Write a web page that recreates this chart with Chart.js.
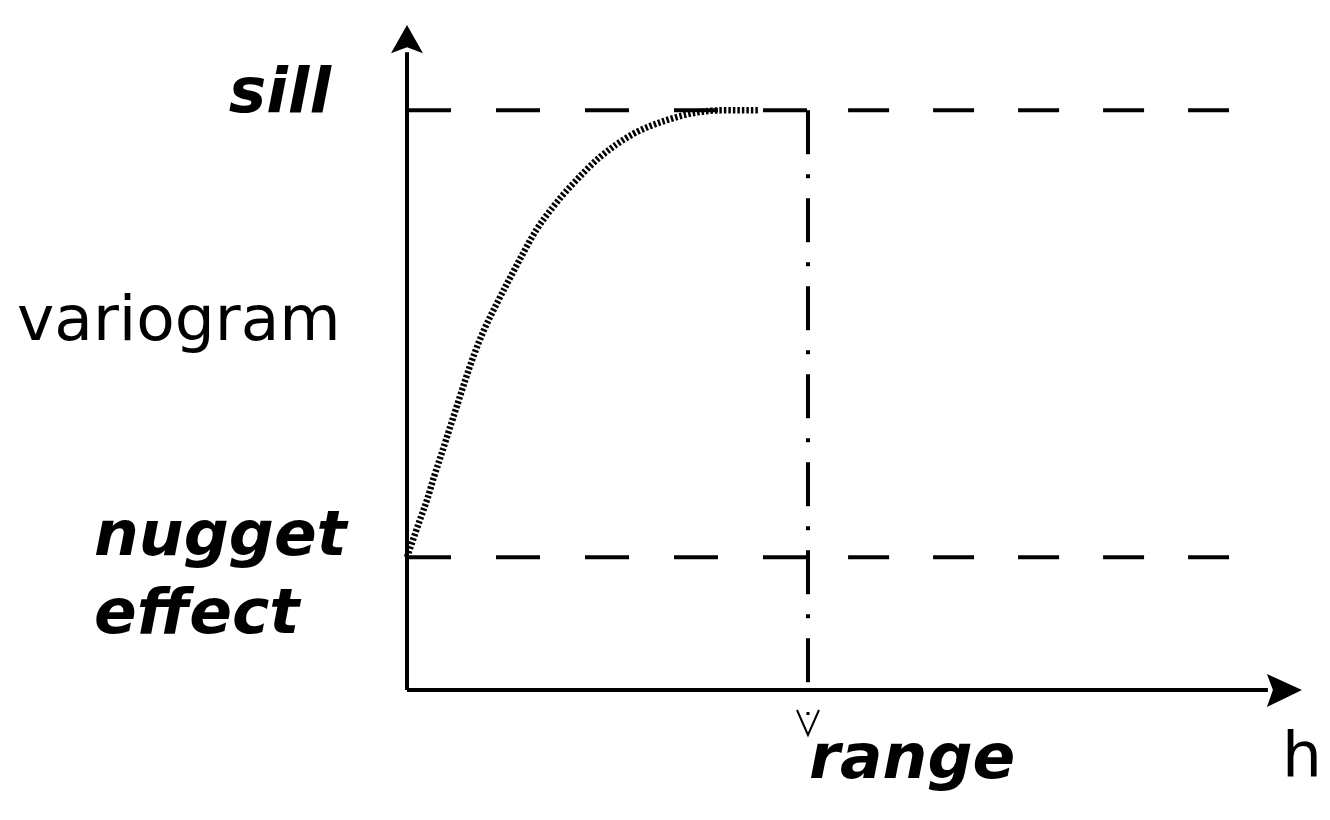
<!DOCTYPE html>
<html>
<head>
<meta charset="utf-8">
<script src="https://cdn.jsdelivr.net/npm/chart.js@4/dist/chart.umd.min.js"></script>
<style>
  html, body { margin: 0; padding: 0; background: #ffffff; }
  #wrap { width: 1330px; height: 820px; }
</style>
</head>
<body>
<div id="wrap"><canvas id="c" width="1330" height="820"></canvas></div>
<script>
// ---- data ----
const lagH   = [0, 0.15, 0.32, 0.50, 0.67, 0.85, 1.05, 1.25, 1.45, 1.67, 1.92, 2.22, 2.54, 2.87, 3.22, 3.64, 4.11, 4.81, 5.64, 6.48, 7.30, 8.05, 8.75];
const gammaH = [2.29, 2.59, 2.93, 3.28, 3.67, 4.05, 4.48, 4.91, 5.34, 5.78, 6.21, 6.64, 7.07, 7.50, 7.93, 8.33, 8.71, 9.19, 9.59, 9.83, 9.97, 10.0, 10.0];
const SILL = 10;
const NUGGET = 2.29;
const RANGE = 10;
const X_MAX = 22.32;
const Y_MAX = 11.47;
const X_AXIS_END = 21.47;   // where the x arrow head starts
const Y_AXIS_END = 11.0;    // where the y arrow head starts
const DASH_RIGHT_START = 11.0;
const DASH_RIGHT_END = 20.5;
const yLabels = ["sill", "variogram", "nugget", "effect"];
const xLabels = ["range", "h"];

const curve = lagH.map((x, i) => ({ x: x, y: gammaH[i] }));

const base = { showLine: true, pointRadius: 0, pointHoverRadius: 0, fill: false, clip: false, borderColor: '#000' };

const datasets = [
  Object.assign({}, base, { label: 'x axis', data: [{x: 0, y: 0}, {x: X_AXIS_END, y: 0}], borderWidth: 4 }),
  Object.assign({}, base, { label: 'y axis', data: [{x: 0, y: 0}, {x: 0, y: Y_AXIS_END}], borderWidth: 4 }),
  Object.assign({}, base, { label: 'sill left', data: [{x: 0, y: SILL}, {x: RANGE, y: SILL}], borderWidth: 4, borderDash: [44, 45] }),
  Object.assign({}, base, { label: 'sill right', data: [{x: DASH_RIGHT_START, y: SILL}, {x: DASH_RIGHT_END, y: SILL}], borderWidth: 4, borderDash: [41, 44] }),
  Object.assign({}, base, { label: 'nugget left', data: [{x: 0, y: NUGGET}, {x: RANGE, y: NUGGET}], borderWidth: 4, borderDash: [44, 45] }),
  Object.assign({}, base, { label: 'nugget right', data: [{x: DASH_RIGHT_START, y: NUGGET}, {x: DASH_RIGHT_END, y: NUGGET}], borderWidth: 4, borderDash: [41, 44] }),
  Object.assign({}, base, { label: 'range', data: [{x: RANGE, y: SILL}, {x: RANGE, y: 0}], borderWidth: 4, borderDash: [44, 20, 4, 20], borderCapStyle: 'butt' }),
  Object.assign({}, base, { label: 'variogram', data: curve, borderWidth: 6.5, borderDash: [2.5, 2], cubicInterpolationMode: 'monotone' })
];

const decor = {
  id: 'decor',
  afterDatasetsDraw(chart) {
    const ctx = chart.ctx;
    const xs = chart.scales.x, ys = chart.scales.y;
    const x0 = xs.getPixelForValue(0), y0 = ys.getPixelForValue(0);
    ctx.save();
    ctx.fillStyle = '#000';
    ctx.strokeStyle = '#000';
    // y arrow head
    const yt = ys.getPixelForValue(Y_MAX);
    const yb = ys.getPixelForValue(Y_AXIS_END);
    ctx.beginPath();
    ctx.moveTo(x0, yt);
    ctx.lineTo(x0 + 16, yb + 1);
    ctx.lineTo(x0, yb - 5);
    ctx.lineTo(x0 - 16, yb + 1);
    ctx.closePath();
    ctx.fill();
    // x arrow head
    const xt = xs.getPixelForValue(X_MAX);
    const xb = xs.getPixelForValue(X_AXIS_END);
    ctx.beginPath();
    ctx.moveTo(xt, y0);
    ctx.lineTo(xb - 1, y0 - 16);
    ctx.lineTo(xb + 5, y0);
    ctx.lineTo(xb - 1, y0 + 17);
    ctx.closePath();
    ctx.fill();
    // small "v" marker below range
    const xr = xs.getPixelForValue(RANGE);
    ctx.lineWidth = 2;
    ctx.beginPath();
    ctx.moveTo(xr - 11, y0 + 20);
    ctx.lineTo(xr, y0 + 45);
    ctx.lineTo(xr + 11, y0 + 20);
    ctx.stroke();
    ctx.fillRect(xr - 1.5, y0 + 22, 3, 3);
    // labels
    const ySill = ys.getPixelForValue(SILL);
    const yNug = ys.getPixelForValue(NUGGET);
    ctx.textBaseline = 'alphabetic';
    ctx.font = 'italic bold 63px "DejaVu Sans"';
    ctx.textAlign = 'right';
    ctx.fillText(yLabels[0], x0 - 76, ySill + 2);
    ctx.textAlign = 'left';
    ctx.fillText(yLabels[2], x0 - 313, yNug - 2);
    ctx.fillText(yLabels[3], x0 - 313, yNug + 76);
    ctx.fillText(xLabels[0], xr + 1, y0 + 88);
    ctx.font = '63px "DejaVu Sans"';
    ctx.fillText(yLabels[1], x0 - 390, ys.getPixelForValue(6.03));
    ctx.fillText(xLabels[1], xs.getPixelForValue(X_MAX) - 20, y0 + 86);
    ctx.restore();
  }
};

new Chart(document.getElementById('c'), {
  type: 'scatter',
  data: { datasets: datasets },
  options: {
    responsive: false,
    animation: false,
    events: [],
    layout: { padding: { left: 407, right: 28, top: 25, bottom: 130 } },
    plugins: { legend: { display: false }, tooltip: { enabled: false } },
    scales: {
      x: { type: 'linear', min: 0, max: X_MAX, display: false },
      y: { type: 'linear', min: 0, max: Y_MAX, display: false }
    }
  },
  plugins: [decor]
});
</script>
</body>
</html>
